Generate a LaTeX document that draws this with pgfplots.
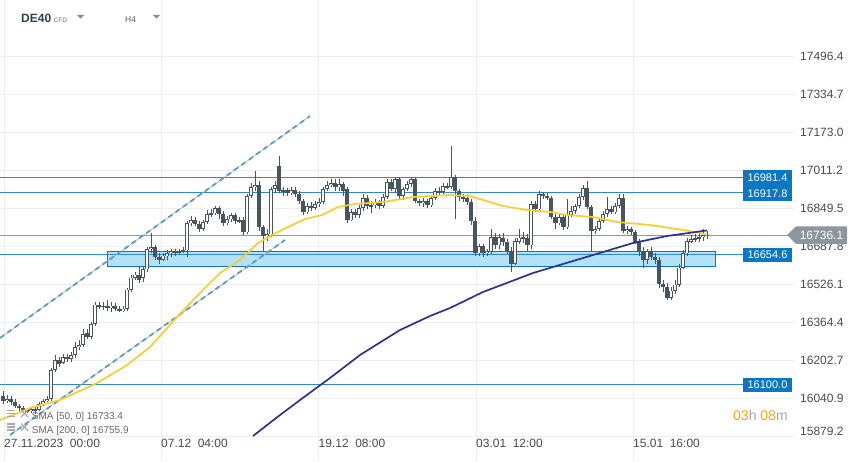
\documentclass[border=0pt]{standalone}
\usepackage{pgfplots}
\pgfplotsset{compat=1.18}
\usepackage{pgfplotstable}
\usepackage{fontspec}
\setmainfont{Liberation Sans}

\definecolor{candle}{HTML}{46555F}
\definecolor{levelblue}{HTML}{2F88C8}
\definecolor{labelblue}{HTML}{0A78C0}
\definecolor{zonefill}{HTML}{B3E1F8}
\definecolor{smayellow}{HTML}{F9CD2A}
\definecolor{smanavy}{HTML}{2E3192}
\definecolor{pricegrey}{HTML}{8C969C}
\definecolor{chgrey}{HTML}{A8A8A8}
\definecolor{chblue}{HTML}{5B9AC4}
\definecolor{gridc}{HTML}{EEEEEE}
\definecolor{tickc}{HTML}{4A4A4A}
\definecolor{hdr}{HTML}{333F48}
\definecolor{iconc}{HTML}{A8A8A8}
\definecolor{orangec}{HTML}{F7A21E}

\pgfplotstableread{
x o h l c
3 16050 16072 16016 16029
7 16029 16055 16021 16038
11 16038 16051 16012 16025
15 16025 16038 15999 16008
19 16008 16016 15986 15999
23 15999 16008 15982 15991
27 15991 15999 15978 15986
31 15986 16003 15978 15995
35 15995 16008 15974 15991
39 15991 16025 15986 16016
43 16016 16038 16008 16029
47 16029 16051 16025 16038
51 16038 16170 16029 16162
55 16162 16226 16153 16205
59 16205 16217 16175 16187
63 16192 16230 16187 16217
67 16217 16230 16196 16209
71 16209 16239 16196 16226
75 16226 16282 16213 16260
79 16260 16290 16247 16269
83 16269 16337 16260 16316
87 16320 16337 16294 16303
91 16303 16367 16294 16359
95 16359 16453 16350 16440
99 16440 16453 16423 16431
103 16431 16453 16418 16436
107 16436 16461 16414 16427
111 16427 16453 16410 16436
115 16436 16448 16414 16423
119 16423 16436 16410 16414
123 16414 16436 16410 16423
127 16423 16513 16414 16504
131 16504 16568 16495 16555
135 16555 16581 16547 16568
139 16568 16602 16534 16547
143 16555 16602 16538 16590
147 16590 16684 16581 16675
151 16675 16744 16658 16684
155 16684 16692 16632 16645
159 16645 16658 16615 16632
163 16632 16662 16624 16649
167 16649 16671 16632 16658
171 16658 16679 16645 16667
175 16667 16679 16649 16662
179 16662 16679 16654 16667
183 16667 16684 16658 16671
187 16671 16795 16641 16786
191 16786 16816 16774 16799
195 16799 16812 16774 16782
199 16782 16795 16748 16761
203 16761 16799 16752 16791
207 16791 16842 16782 16825
211 16825 16846 16812 16829
215 16829 16859 16821 16851
219 16851 16859 16803 16825
223 16825 16838 16774 16786
227 16786 16816 16778 16803
231 16803 16829 16791 16821
235 16821 16829 16782 16795
239 16795 16812 16786 16799
243 16799 16812 16735 16748
247 16748 16910 16739 16902
251 16902 16957 16893 16940
255 16940 17009 16923 16949
259 16949 16966 16752 16769
263 16769 16778 16667 16731
267 16731 16761 16709 16739
271 16739 16940 16726 16932
275 16932 16966 16915 16949
279 17030 17073 16915 16923
283 16923 16940 16902 16928
287 16928 16936 16902 16915
291 16915 16940 16906 16928
295 16928 16940 16898 16910
299 16910 16923 16868 16880
303 16880 16889 16821 16833
307 16833 16872 16825 16859
311 16859 16876 16838 16851
315 16851 16880 16842 16868
319 16868 16893 16855 16876
323 16876 16940 16868 16932
327 16932 16966 16923 16949
331 16949 16975 16940 16957
335 16957 16975 16923 16940
339 16940 16975 16923 16953
343 16953 16962 16902 16923
347 16932 16940 16786 16799
351 16799 16846 16795 16833
355 16833 16846 16808 16821
359 16821 16863 16808 16851
363 16851 16910 16838 16893
367 16893 16906 16846 16859
371 16859 16880 16829 16863
375 16863 16889 16851 16876
379 16876 16885 16846 16859
383 16859 16910 16851 16898
387 16898 16975 16889 16962
391 16962 16975 16923 16932
395 16932 16983 16915 16975
399 16975 16983 16889 16902
403 16902 16940 16885 16932
407 16932 16966 16923 16953
411 16953 16983 16940 16975
415 16975 16983 16872 16880
419 16880 16889 16859 16872
423 16872 16893 16855 16880
427 16880 16889 16851 16863
431 16863 16906 16855 16893
435 16893 16936 16885 16923
439 16923 16940 16906 16919
443 16919 16957 16910 16945
447 16945 16957 16932 16940
451 16940 17116 16932 16983
455 16983 16992 16803 16923
459 16923 16932 16880 16898
463 16898 16910 16876 16893
467 16893 16902 16863 16876
471 16876 16889 16778 16795
475 16795 16812 16649 16658
479 16658 16697 16649 16688
483 16688 16697 16641 16658
487 16658 16679 16649 16667
491 16667 16761 16654 16726
495 16726 16744 16675 16692
499 16692 16739 16679 16726
503 16726 16744 16688 16705
507 16705 16718 16654 16667
511 16667 16684 16581 16615
515 16615 16722 16607 16709
519 16709 16761 16697 16726
523 16726 16748 16701 16722
527 16722 16739 16667 16692
531 16692 16880 16679 16868
535 16868 16880 16833 16846
539 16846 16923 16838 16910
543 16910 16919 16889 16902
547 16902 16915 16885 16893
551 16893 16902 16803 16812
555 16812 16825 16761 16786
559 16786 16825 16778 16812
563 16812 16821 16756 16769
567 16769 16889 16761 16821
571 16821 16859 16812 16838
575 16838 16868 16825 16859
579 16859 16910 16851 16898
583 16898 16949 16885 16936
587 16936 16966 16846 16855
591 16855 16863 16667 16752
595 16752 16774 16739 16761
599 16761 16808 16752 16795
603 16795 16838 16786 16825
607 16825 16898 16812 16846
611 16846 16859 16825 16833
615 16833 16872 16825 16859
619 16859 16910 16851 16893
623 16893 16910 16744 16752
627 16752 16774 16739 16761
631 16761 16769 16735 16748
635 16748 16756 16697 16709
639 16709 16718 16649 16667
643 16667 16684 16594 16632
647 16632 16679 16615 16667
651 16667 16684 16632 16645
655 16645 16658 16615 16632
659 16632 16645 16513 16530
663 16530 16547 16495 16517
667 16517 16534 16461 16470
671 16470 16517 16461 16500
675 16500 16547 16487 16525
679 16525 16611 16517 16598
683 16598 16671 16590 16658
687 16658 16722 16649 16709
691 16709 16735 16701 16718
695 16718 16739 16705 16722
699 16722 16744 16705 16726
703 16726 16761 16709 16735
707 16735 16752 16718 16736
}\candles

\begin{document}
\begin{tikzpicture}
\useasboundingbox (0,0) rectangle (859pt,461pt);
\begin{axis}[
  at={(0pt,0pt)}, anchor=south west,
  width=795pt, height=461pt, scale only axis,
  xmin=0, xmax=795, ymin=15774.3, ymax=17737.2,
  axis line style={draw=none}, tick style={draw=none},
  clip=false,
  scaled x ticks=false, scaled y ticks=false,
  /pgf/number format/assume math mode=true,
  xtick={4,161,318.5,476,633},
  xticklabels={27.11.2023\hspace{0.55em}00:00, 07.12\hspace{0.55em}04:00, 19.12\hspace{0.55em}08:00, 03.01\hspace{0.55em}12:00, 15.01\hspace{0.55em}16:00},
  xticklabel style={anchor=west, yshift=17.5pt, xshift=-2pt, inner sep=2pt, font=\fontsize{12}{14}\selectfont, text=tickc},
  ytick={16040.9,16202.7,16364.4,16526.1,16687.8,16849.5,17011.2,17173.0,17334.7,17496.4},
  yticklabels={16040.9,16202.7,16364.4,16526.1,16687.8,16849.5,17011.2,17173.0,17334.7,17496.4},
  extra y ticks={15879.2},
  extra y tick labels={15879.2},
  extra y tick style={yticklabel style={yshift=5pt}},
  yticklabel pos=right,
  yticklabel style={anchor=west, inner sep=0pt, xshift=5pt, font=\fontsize{12}{14}\selectfont, text=tickc},
  xmajorgrids, ymajorgrids,
  major grid style={draw=gridc, line width=0.7pt},
]
% support / resistance zone
\addplot[fill=zonefill, draw=labelblue, line width=0.8pt] coordinates {(107,16601.6) (715,16601.6) (715,16665.5) (107,16665.5) (107,16601.6)};
% horizontal levels
\addplot[levelblue, line width=0.9pt] coordinates {(0,16981.4) (743,16981.4)};
\addplot[levelblue, line width=0.9pt] coordinates {(0,16917.8) (743,16917.8)};
\addplot[levelblue, line width=0.9pt] coordinates {(0,16654.6) (743,16654.6)};
\addplot[levelblue, line width=0.9pt] coordinates {(0,16100.0) (743,16100.0)};
\addplot[pricegrey, line width=0.8pt] coordinates {(0,16736.1) (790,16736.1)};
% channel lines
\addplot[chgrey, line width=0.6pt] coordinates {(0,16298) (310,17243.3)};
\addplot[chblue, line width=1.8pt, dash pattern=on 5pt off 4pt] coordinates {(0,16298) (310,17243.3)};
\addplot[chgrey, line width=0.6pt] coordinates {(10,15885) (285,16715.3)};
\addplot[chblue, line width=1.8pt, dash pattern=on 5pt off 4pt] coordinates {(10,15885) (285,16715.3)};
% candles: wicks
\addplot[draw=none, mark=none, forget plot,
  error bars/.cd, y dir=both, y explicit, error mark=none,
  error bar style={draw=candle, line width=1pt, solid}]
  table[x=x, y=o, y error plus expr={\thisrow{h}-\thisrow{o}}, y error minus expr={\thisrow{o}-\thisrow{l}}] {\candles};
% candle bodies
\addplot[draw=none, mark=none, forget plot,
  error bars/.cd, y dir=both, y explicit, error mark=none,
  error bar style={draw=candle, line width=3.2pt, solid, line cap=butt}]
  table[x=x, y expr={(\thisrow{o}+\thisrow{c})/2}, y error expr={max(abs(\thisrow{c}-\thisrow{o})/2,2.5)}] {\candles};
% hollow (bullish) bodies
\addplot[draw=none, mark=none, forget plot,
  error bars/.cd, y dir=both, y explicit, error mark=none,
  error bar style={draw=white, line width=1.6pt, solid, line cap=butt}]
  table[x=x, y expr={(\thisrow{o}+\thisrow{c})/2}, y error expr={max((\thisrow{c}-\thisrow{o})/2-3.4,0)}] {\candles};
% SMA 50
\addplot[smayellow, line width=1.7pt] coordinates {
(0,15948.8) (33,16004.2) (60,16034.0) (97,16106.4) (127,16183.0) (150,16259.7)
(177,16387.4) (200,16489.6) (220,16574.8) (240,16630.1) (258,16702.5) (272,16736.6)
(288,16770.6) (305,16804.7) (322,16821.7) (338,16855.8) (355,16868.6) (383,16877.1)
(413,16898.4) (450,16906.9) (470,16902.6) (483,16885.6) (503,16860.1) (527,16843.0)
(550,16834.5) (567,16821.7) (593,16813.2) (617,16791.9) (650,16779.1) (683,16757.9)
(700,16745.1) (707,16736.6)};
% SMA 200
\addplot[smanavy, line width=1.7pt] coordinates {
(253,15880.7) (280,15970.1) (300,16034.0) (330,16127.7) (360,16225.6) (400,16332.1)
(430,16391.7) (450,16425.7) (483,16493.9) (533,16574.8) (583,16638.6) (633,16702.5)
(667,16732.3) (707,16756.0)};
\end{axis}

% ---- overlays in picture coordinates (1pt = 1px, y from bottom) ----
% header
\node[anchor=base west, inner sep=0pt, font=\bfseries\fontsize{12}{14}\selectfont, text=hdr] at (21pt,438.3pt) {DE40};
\node[anchor=base west, inner sep=0pt, font=\fontsize{6.5}{8}\selectfont, text=tickc!80] at (53.5pt,438.3pt) {CFD};
\fill[black!45] (77pt,446pt) -- (84pt,446pt) -- (80.5pt,442.3pt) -- cycle;
\node[anchor=base west, inner sep=0pt, font=\fontsize{8.5}{10}\selectfont, text=tickc!90] at (125pt,438.3pt) {H4};
\fill[black!45] (153pt,446pt) -- (160pt,446pt) -- (156.5pt,442.3pt) -- cycle;

% level labels
\fill[labelblue] (743pt,275pt) rectangle (792pt,291pt);
\node[text=white, font=\fontsize{11}{13}\selectfont, inner sep=0pt] at (767.5pt,283pt) {16981.4};
\fill[labelblue] (743pt,260pt) rectangle (792pt,275pt);
\node[text=white, font=\fontsize{11}{13}\selectfont, inner sep=0pt] at (767.5pt,267.5pt) {16917.8};
\fill[labelblue] (743pt,199pt) rectangle (792pt,213pt);
\node[text=white, font=\fontsize{11}{13}\selectfont, inner sep=0pt] at (767.5pt,206pt) {16654.6};
\fill[labelblue] (743pt,69pt) rectangle (792pt,83pt);
\node[text=white, font=\fontsize{11}{13}\selectfont, inner sep=0pt] at (767.5pt,76pt) {16100.0};

% current price label
\fill[pricegrey] (787pt,226pt) -- (796pt,234.5pt) -- (847pt,234.5pt) -- (847pt,217pt) -- (796pt,217pt) -- cycle;
\node[text=white, font=\fontsize{12}{14}\selectfont, inner sep=0pt] at (821.5pt,225.8pt) {16736.1};

% legend
\foreach \yy in {44,30.5}{
  \draw[iconc, line width=1.2pt] (7pt,\yy pt+6.5pt) -- (15pt,\yy pt+6.5pt);
  \draw[iconc, line width=1.2pt] (7pt,\yy pt+3.5pt) -- (15pt,\yy pt+3.5pt);
  \draw[iconc, line width=1.2pt] (7pt,\yy pt+0.5pt) -- (15pt,\yy pt+0.5pt);
  \draw[iconc, line width=1.3pt] (21pt,\yy pt) -- (28pt,\yy pt+7pt);
  \draw[iconc, line width=1.3pt] (21pt,\yy pt+7pt) -- (28pt,\yy pt);
}
\node[anchor=base west, inner sep=0pt, font=\fontsize{10}{12}\selectfont, text=black!60] at (31.7pt,42pt) {SMA [50,\ 0]\ 16733.4};
\node[anchor=base west, inner sep=0pt, font=\fontsize{10}{12}\selectfont, text=black!60] at (31.7pt,27.7pt) {SMA [200,\ 0]\ 16755.9};

% countdown
\node[anchor=base west, inner sep=0pt, font=\fontsize{14}{16}\selectfont] at (733pt,41pt) {\textcolor{orangec}{03}\textcolor{black!35}{h} \textcolor{orangec}{08}\textcolor{black!35}{m}};
\end{tikzpicture}
\end{document}
